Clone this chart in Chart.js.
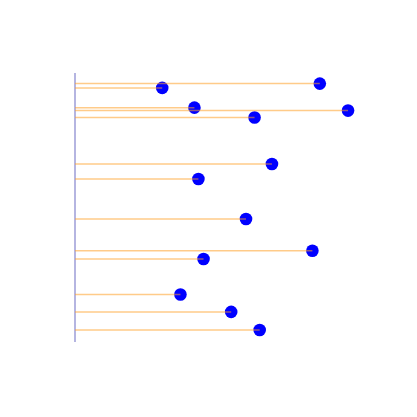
<!DOCTYPE html>
<html>
<head>
<meta charset="utf-8">
<script src="https://cdn.jsdelivr.net/npm/chart.js@4"></script>
<style>
  html, body { margin: 0; padding: 0; background: #fff; }
</style>
</head>
<body>
<canvas id="myChart" width="417" height="417"></canvas>
<script>
// values (x = length of each stick, y = its position)
const xValues = [85.9, 30.6, 41.9, 95.8, 63.0, 69.1, 43.3, 60.0, 83.3, 45.1, 37.0, 54.8, 64.8];
const yValues = [96.4, 94.8, 87.4, 86.3, 83.7, 66.3, 60.7, 45.7, 33.8, 30.7, 17.4, 10.9, 4.1];

const ctx = document.getElementById("myChart");

let puntos = [];
let palitos = [];
xValues.map((v, i) => {
  puntos.push({ x: v, y: yValues[i] });
  palitos.push({ x: 0, y: yValues[i] });
  palitos.push({ x: v, y: yValues[i] });
  palitos.push({ x: null, y: null });
});

new Chart(ctx, {
  type: "scatter",
  data: {
    datasets: [
      {
        type: "line",
        data: palitos,
        borderColor: "rgba(255, 160, 40, 0.55)",
        borderWidth: 1.5,
        pointRadius: 0,
        spanGaps: false,
        clip: false,
        order: 0,
      },
      {
        data: puntos,
        backgroundColor: "#0000ff",
        borderWidth: 0,
        pointRadius: 6.3,
        clip: false,
        order: 1,
      },
    ],
  },
  options: {
    responsive: false,
    animation: false,
    devicePixelRatio: 1,
    layout: {
      padding: { top: 74, bottom: 76, left: 75, right: 57 },
    },
    plugins: {
      legend: { display: false },
      tooltip: { enabled: false },
    },
    scales: {
      x: { display: false, min: 0, max: 100 },
      y: {
        min: 0,
        max: 100,
        grid: { display: false, drawTicks: false },
        ticks: { display: false },
        border: { display: true, color: "rgba(120, 120, 200, 0.55)", width: 2 },
      },
    },
  },
});
</script>
</body>
</html>
